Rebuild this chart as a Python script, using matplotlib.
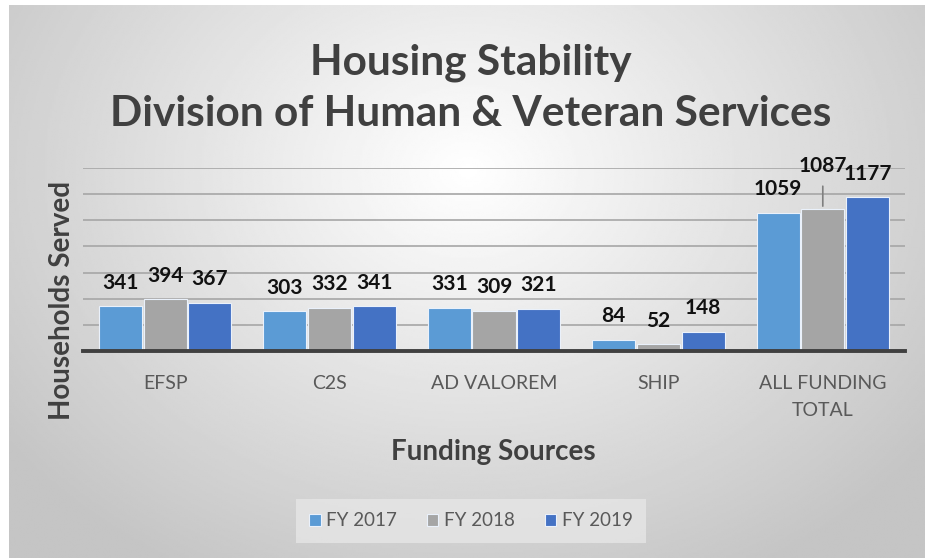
import numpy as np
import matplotlib
matplotlib.use("Agg")
import matplotlib.pyplot as plt

plt.rcParams["font.family"] = ["Lato", "DejaVu Sans"]

categories = ["EFSP", "C2S", "AD VALOREM", "SHIP", "ALL FUNDING\nTOTAL"]
series_names = ["FY 2017", "FY 2018", "FY 2019"]
fy2017 = [341, 303, 331, 84, 1059]
fy2018 = [394, 332, 309, 52, 1087]
fy2019 = [367, 341, 321, 148, 1177]
colors = ["#5B9BD5", "#A5A5A5", "#4472C4"]
y_ticks = [0, 200, 400, 600, 800, 1000, 1200, 1400]

W, H = 925, 558
fig = plt.figure(figsize=(W / 100, H / 100), dpi=100)

# radial gradient background for the chart frame
bg = fig.add_axes([9 / W, 0, 1 - 9 / W, 1 - 5 / H], zorder=-10)
yy, xx = np.mgrid[0:300, 0:500]
cx, cy = 250, 90
r = np.sqrt(((xx - cx) / 330) ** 2 + ((yy - cy) / 260) ** 2)
shade = np.clip(1.0 - 0.24 * r, 0.77, 1.0)
bg.imshow(shade, cmap="gray", vmin=0, vmax=1, aspect="auto", extent=[0, 1, 0, 1])
bg.set_axis_off()

ax = fig.add_axes([83 / W, 1 - 351 / H, 822 / W, 183 / H])
ax.patch.set_alpha(0)

x = np.arange(len(categories))
step = 0.272
w = 0.262
all_bars = []
for i, (vals, name) in enumerate(zip([fy2017, fy2018, fy2019], series_names)):
    bars = ax.bar(x + (i - 1) * step, vals, width=w, color=colors[i], label=name,
                  edgecolor="#eaf1fb", linewidth=0.8, zorder=3)
    all_bars.append(bars)

for i, bars in enumerate(all_bars):
    for j, bar in enumerate(bars):
        h = bar.get_height()
        xc = bar.get_x() + bar.get_width() / 2
        if j == 4 and i == 1:
            # 1087 sits higher with a leader line
            ax.annotate(f"{h:.0f}", (xc, h), xytext=(0, 31), textcoords="offset points",
                        ha="center", va="center", fontsize=15, fontweight="bold",
                        color="#111111", annotation_clip=False)
            ax.annotate("", (xc, h), xytext=(xc, h + 195),
                        arrowprops={"arrowstyle": "-", "color": "#7f7f7f", "lw": 1.2},
                        annotation_clip=False)
        else:
            ax.annotate(f"{h:.0f}", (xc, h), xytext=(0, 17), textcoords="offset points",
                        ha="center", va="center", fontsize=15, fontweight="bold",
                        color="#111111", annotation_clip=False)

ax.set_ylim(0, 1400)
ax.set_xlim(-0.5, len(categories) - 0.5)
ax.set_yticks(y_ticks)
ax.yaxis.grid(True, color="#a6a6a6", linewidth=1.2, zorder=0)
ax.tick_params(axis="y", length=0, labelleft=False)
ax.tick_params(axis="x", length=0, pad=17)
ax.set_xticks(x)
ax.set_xticklabels(categories, fontsize=14, color="#595959", linespacing=1.75)
for s in ["top", "right", "left"]:
    ax.spines[s].set_visible(False)
ax.spines["bottom"].set_color("#404040")
ax.spines["bottom"].set_linewidth(2.8)
ax.spines["bottom"].set_zorder(4)

fig.text(62 / W, 1 - 300 / H, "Households Served", fontsize=20, fontweight="bold",
         color="#404040", ha="center", va="center", rotation=90)
fig.text(493 / W, 1 - 452 / H, "Funding Sources", fontsize=20, fontweight="bold",
         color="#404040", ha="center", va="center")

fig.text(471 / W, 1 - 63 / H, "Housing Stability", fontsize=30.5, fontweight="bold",
         color="#404040", ha="center", va="center")
fig.text(471 / W, 1 - 114 / H, "Division of Human & Veteran Services", fontsize=30.5,
         fontweight="bold", color="#404040", ha="center", va="center")

leg = ax.legend(loc="center", bbox_to_anchor=(471 / W, 1 - 521 / H), bbox_transform=fig.transFigure,
                ncol=3, frameon=True, fontsize=13.5, handlelength=0.6, handleheight=0.6,
                handletextpad=0.3, columnspacing=1.6, borderpad=0.7, fancybox=False)
leg.get_frame().set_facecolor("#e6e6e6")
leg.get_frame().set_edgecolor("none")
leg.get_frame().set_alpha(0.8)
for t in leg.get_texts():
    t.set_color("#595959")

fig.savefig("out.png", dpi=100)
